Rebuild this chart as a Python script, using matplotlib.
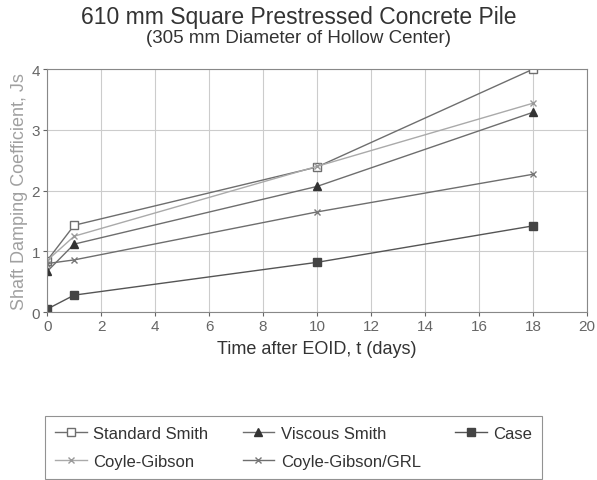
import matplotlib
matplotlib.use('Agg')
import matplotlib.pyplot as plt

plt.rcParams['font.family'] = ['Liberation Sans', 'DejaVu Sans']

# --- Dados ---
t_days = [0, 1, 10, 18]
std_smith = [0.85, 1.43, 2.39, 4.0]
visc_smith = [0.67, 1.12, 2.07, 3.29]
case = [0.05, 0.28, 0.82, 1.42]
coyle_gibson = [0.85, 1.25, 2.40, 3.44]
coyle_grl = [0.80, 0.86, 1.65, 2.27]

fig = plt.figure(figsize=(5.97, 4.81), dpi=100)
ax = fig.add_axes([0.079, 0.349, 0.904, 0.505])

lc = '#6e6e6e'
ax.plot(t_days, std_smith, color=lc, lw=1.0, marker='s', ms=5.5, mfc='white',
        mec=lc, label='Standard Smith')
ax.plot(t_days, coyle_gibson, color='#aaaaaa', lw=1.0, marker='x', ms=4.5,
        mec='#999999', label='Coyle-Gibson')
ax.plot(t_days, visc_smith, color=lc, lw=1.0, marker='^', ms=5.5, mfc='#333333',
        mec='#333333', label='Viscous Smith')
ax.plot(t_days, coyle_grl, color=lc, lw=1.0, marker='x', ms=4.5,
        mec='#777777', label='Coyle-Gibson/GRL')
ax.plot(t_days, case, color='#555555', lw=1.0, marker='s', ms=5.5, mfc='#444444',
        mec='#444444', label='Case')

ax.set_xlim(0, 20)
ax.set_ylim(0, 4)
ax.set_xticks(range(0, 21, 2))
ax.set_yticks(range(0, 5))
ax.grid(True, color='#cccccc', lw=0.8)
for s in ax.spines.values():
    s.set_color('#888888')
ax.tick_params(colors='#666666', labelsize=11, length=3, pad=2)
ax.set_xlabel('Time after EOID, t (days)', fontsize=13, color='#333333', labelpad=5)
ax.set_ylabel('Shaft Damping Coefficient, Js', fontsize=13, color='#a0a0a0', labelpad=3)

fig.text(0.5, 0.964, '610 mm Square Prestressed Concrete Pile', ha='center',
         va='center', fontsize=16.5, color='#333333')
fig.text(0.5, 0.919, '(305 mm Diameter of Hollow Center)', ha='center',
         va='center', fontsize=13.5, color='#333333')

leg = fig.legend(loc='upper left', bbox_to_anchor=(0.0754, 0.002, 0.833, 0.131),
                 mode='expand', ncol=3, fontsize=12, frameon=True, fancybox=False,
                 edgecolor='#777777', handlelength=1.9, handletextpad=0.4,
                 borderpad=0.6, labelspacing=0.75, borderaxespad=0)
leg.get_frame().set_linewidth(0.8)
for txt in leg.get_texts():
    txt.set_color('#333333')

plt.savefig('out.png', dpi=100)
